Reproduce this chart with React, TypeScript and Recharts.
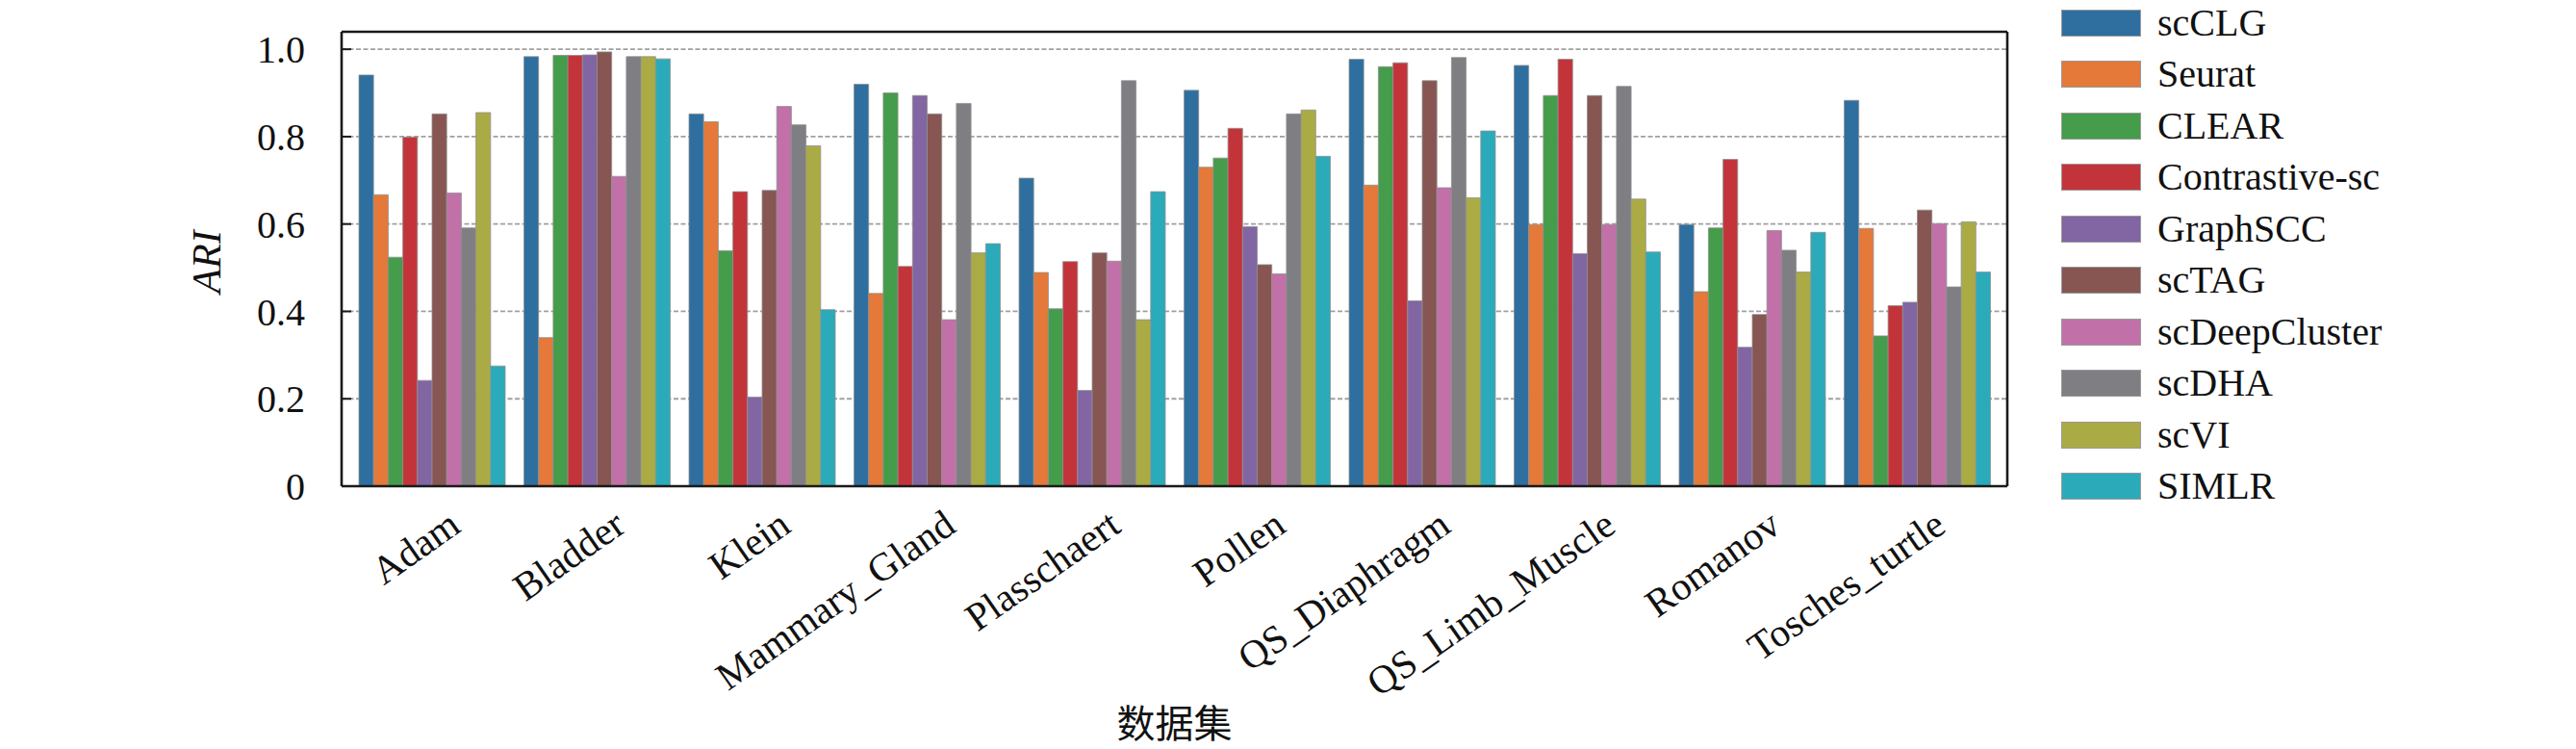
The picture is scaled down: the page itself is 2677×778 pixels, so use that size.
import React from 'react';
import { BarChart, Bar, XAxis, YAxis, CartesianGrid } from 'recharts';

const categories = ['Adam', 'Bladder', 'Klein', 'Mammary_Gland', 'Plasschaert', 'Pollen', 'QS_Diaphragm', 'QS_Limb_Muscle', 'Romanov', 'Tosches_turtle'];

const scCLG = [0.941, 0.983, 0.852, 0.920, 0.705, 0.906, 0.977, 0.963, 0.599, 0.883];
const Seurat = [0.667, 0.340, 0.834, 0.441, 0.489, 0.730, 0.689, 0.599, 0.445, 0.590];
const CLEAR = [0.524, 0.986, 0.539, 0.900, 0.406, 0.751, 0.960, 0.894, 0.591, 0.344];
const ContrastiveSc = [0.799, 0.986, 0.674, 0.503, 0.514, 0.819, 0.969, 0.977, 0.748, 0.413];
const GraphSCC = [0.242, 0.987, 0.204, 0.894, 0.219, 0.594, 0.424, 0.532, 0.318, 0.421];
const scTAG = [0.852, 0.994, 0.677, 0.852, 0.534, 0.507, 0.928, 0.894, 0.393, 0.632];
const scDeepCluster = [0.671, 0.709, 0.869, 0.381, 0.515, 0.486, 0.683, 0.599, 0.585, 0.601];
const scDHA = [0.591, 0.983, 0.827, 0.876, 0.928, 0.852, 0.981, 0.915, 0.540, 0.456];
const scVI = [0.855, 0.983, 0.779, 0.534, 0.381, 0.861, 0.660, 0.657, 0.490, 0.605];
const SIMLR = [0.275, 0.978, 0.404, 0.555, 0.674, 0.755, 0.813, 0.536, 0.581, 0.490];

const seriesNames = ['scCLG', 'Seurat', 'CLEAR', 'Contrastive-sc', 'GraphSCC', 'scTAG', 'scDeepCluster', 'scDHA', 'scVI', 'SIMLR'];
const seriesValues = [scCLG, Seurat, CLEAR, ContrastiveSc, GraphSCC, scTAG, scDeepCluster, scDHA, scVI, SIMLR];
const seriesColors = ['#2e6fa0', '#e4793a', '#459c4a', '#c3343a', '#8265a3', '#875652', '#c171a8', '#7f7f83', '#abab45', '#2babba'];

const yTicks = [0, 0.2, 0.4, 0.6, 0.8, 1.0];

const data = categories.map((c, i) => {
  const row: Record<string, any> = { name: c };
  seriesNames.forEach((s, j) => {
    row[s] = seriesValues[j][i];
  });
  return row;
});

const SERIF = '"Liberation Serif", "Times New Roman", serif';
const AXIS = { stroke: '#1a1a1a', strokeWidth: 2.6 };

const XTick = (props: any) => {
  const { x, y, payload } = props;
  const ax = x + 32;
  const ay = y + 38;
  return (
    <text
      x={ax}
      y={ay}
      transform={`rotate(-35, ${ax}, ${ay})`}
      textAnchor="end"
      fontFamily={SERIF}
      fontSize={41}
      fill="#111"
    >
      {payload.value}
    </text>
  );
};

function LegendBox() {
  return (
    <div style={{ position: 'absolute', left: 2142, top: -3, display: 'flex', flexDirection: 'column' }}>
      {seriesNames.map((s, j) => (
        <div key={s} style={{ display: 'flex', alignItems: 'center', height: 53.5 }}>
          <div
            style={{
              width: 83,
              height: 28,
              background: seriesColors[j],
              boxSizing: 'border-box',
              border: '1px solid #9a9a9a',
              marginRight: 17,
            }}
          />
          <span style={{ fontFamily: SERIF, fontSize: 40, color: '#111', lineHeight: '40px', whiteSpace: 'nowrap' }}>{s}</span>
        </div>
      ))}
    </div>
  );
}

export default function App() {
  return (
    <div style={{ position: 'absolute', left: 0, top: 0, width: 2677, height: 778, background: '#fff', overflow: 'hidden' }}>
      <BarChart
        width={2677}
        height={778}
        data={data}
        margin={{ top: 32, right: 590, bottom: 0, left: 255 }}
        barGap={0}
        barSize={15.2}
      >
        <CartesianGrid
          vertical={false}
          horizontal={true}
          stroke="#a0a0a0"
          strokeDasharray="5 2.5"
          strokeWidth={1.8}
          xAxisId="bottom"
          yAxisId="left"
          horizontalValues={[0.2, 0.4, 0.6, 0.8, 1.0]}
        />
        <XAxis
          dataKey="name"
          xAxisId="bottom"
          height={273}
          padding={{ left: 8, right: 8 }}
          tickLine={false}
          axisLine={AXIS}
          tick={<XTick />}
          interval={0}
          label={(p: any) => {
            const vb = p.viewBox;
            return (
              <text
                x={vb.x + vb.width / 2}
                y={vb.y + 261}
                textAnchor="middle"
                fontFamily='"Noto Sans CJK SC", sans-serif'
                fontSize={40}
                fill="#111"
              >
                数据集
              </text>
            );
          }}
        />
        <XAxis
          dataKey="name"
          xAxisId="top"
          orientation="top"
          height={1}
          tick={false}
          tickLine={false}
          axisLine={AXIS}
        />
        <YAxis
          yAxisId="left"
          width={100}
          domain={[0, 1.04]}
          ticks={yTicks}
          allowDataOverflow
          tickFormatter={(v: number) => (v === 0 ? '0' : v.toFixed(1))}
          tick={{ fontFamily: SERIF, fontSize: 40, fill: '#111' }}
          tickSize={-10}
          tickMargin={48}
          tickLine={{ stroke: '#1a1a1a', strokeWidth: 2 }}
          axisLine={AXIS}
          label={(p: any) => {
            const vb = p.viewBox;
            const cx = 229;
            const cy = vb.y + vb.height / 2 + 3;
            return (
              <text
                x={cx}
                y={cy}
                transform={`rotate(-90, ${cx}, ${cy})`}
                textAnchor="middle"
                fontFamily={SERIF}
                fontStyle="italic"
                fontSize={42}
                fill="#111"
              >
                ARI
              </text>
            );
          }}
        />
        <YAxis
          yAxisId="right"
          orientation="right"
          width={1}
          domain={[0, 1.04]}
          ticks={yTicks}
          allowDataOverflow
          tick={false}
          tickSize={-10}
          tickLine={{ stroke: '#1a1a1a', strokeWidth: 2 }}
          axisLine={AXIS}
        />
        {seriesNames.map((s, j) => (
          <Bar
            key={s}
            dataKey={s}
            name={s}
            xAxisId="bottom"
            yAxisId="left"
            fill={seriesColors[j]}
            stroke="#8f8f8f"
            strokeWidth={0.8}
            isAnimationActive={false}
          />
        ))}
      </BarChart>
      <LegendBox />
    </div>
  );
}
